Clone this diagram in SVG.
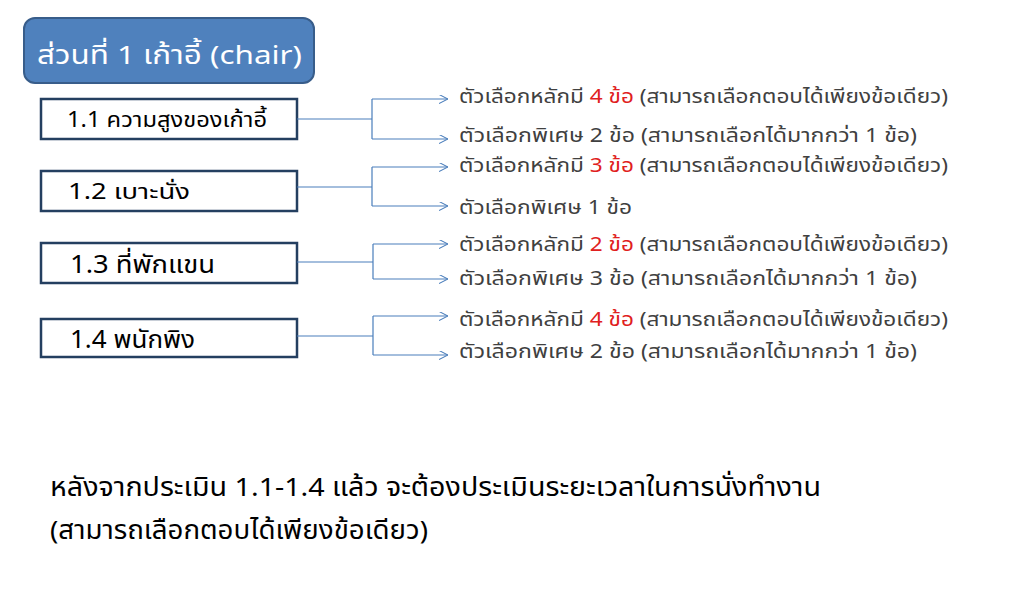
<svg xmlns="http://www.w3.org/2000/svg" width="1024" height="599" viewBox="0 0 1024 599">
<defs>
<style>
.t{font-family:"Noto Sans Thai","Tahoma","DejaVu Sans","Noto Sans",sans-serif;}
.box{fill:#fff;stroke:#243f60;stroke-width:2.5;}
.lbl{fill:#000;}
.opt{font-size:20px;fill:#404040;}
.red{fill:#e02020;}
.cn{fill:none;stroke:#4a7ebb;stroke-width:1.2;}
</style>
<marker id="ar" viewBox="0 0 10 10" refX="10" refY="5" markerWidth="9" markerHeight="9" markerUnits="userSpaceOnUse" orient="auto">
<path d="M0,0 L10,5 L0,10" fill="none" stroke="#4a7ebb" stroke-width="1.2"/>
</marker>
</defs>
<rect width="1024" height="599" fill="#fff"/>
<g id="title">
<rect x="24" y="18" width="290" height="65" rx="11" fill="#4f81bd" stroke="#385d8a" stroke-width="2"/>
<text class="t" x="37" y="64" font-size="26" fill="#fff" textLength="265" lengthAdjust="spacingAndGlyphs">ส่วนที่ 1 เก้าอี้ (chair)</text>
</g>
<g id="n11"><rect class="box" x="41" y="99" width="256" height="40"/><text class="t lbl" x="67" y="127" font-size="21" textLength="200" lengthAdjust="spacingAndGlyphs">1.1 ความสูงของเก้าอี้</text></g>
<g id="n12"><rect class="box" x="41" y="171" width="256" height="40"/><text class="t lbl" x="68" y="199" font-size="21" textLength="122" lengthAdjust="spacingAndGlyphs">1.2 เบาะนั่ง</text></g>
<g id="n13"><rect class="box" x="41" y="243" width="256" height="40"/><text class="t lbl" x="70" y="273" font-size="25" textLength="145" lengthAdjust="spacingAndGlyphs">1.3 ที่พักแขน</text></g>
<g id="n14"><rect class="box" x="41" y="319" width="256" height="38"/><text class="t lbl" x="70" y="348" font-size="25" textLength="125" lengthAdjust="spacingAndGlyphs">1.4 พนักพิง</text></g>
<g id="connectors">
<path class="cn" d="M297,119 H372 M372,99 V139" />
<path class="cn" d="M372,99 H448" marker-end="url(#ar)"/>
<path class="cn" d="M372,139 H448" marker-end="url(#ar)"/>
<path class="cn" d="M297,187 H372 M372,167 V206" />
<path class="cn" d="M372,167 H448" marker-end="url(#ar)"/>
<path class="cn" d="M372,206 H448" marker-end="url(#ar)"/>
<path class="cn" d="M297,262 H373 M373,244 V279" />
<path class="cn" d="M373,244 H448" marker-end="url(#ar)"/>
<path class="cn" d="M373,279 H448" marker-end="url(#ar)"/>
<path class="cn" d="M297,336 H373 M373,316 V355" />
<path class="cn" d="M373,316 H448" marker-end="url(#ar)"/>
<path class="cn" d="M373,355 H448" marker-end="url(#ar)"/>
</g>
<g id="options" class="t opt">
<text x="459" y="103" textLength="489" lengthAdjust="spacingAndGlyphs">ตัวเลือกหลักมี <tspan class="red">4 ข้อ</tspan> (สามารถเลือกตอบได้เพียงข้อเดียว)</text>
<text x="459" y="142" textLength="458" lengthAdjust="spacingAndGlyphs">ตัวเลือกพิเศษ 2 ข้อ (สามารถเลือกได้มากกว่า 1 ข้อ)</text>
<text x="459" y="172" textLength="489" lengthAdjust="spacingAndGlyphs">ตัวเลือกหลักมี <tspan class="red">3 ข้อ</tspan> (สามารถเลือกตอบได้เพียงข้อเดียว)</text>
<text x="459" y="214" textLength="173" lengthAdjust="spacingAndGlyphs">ตัวเลือกพิเศษ 1 ข้อ</text>
<text x="459" y="251" textLength="489" lengthAdjust="spacingAndGlyphs">ตัวเลือกหลักมี <tspan class="red">2 ข้อ</tspan> (สามารถเลือกตอบได้เพียงข้อเดียว)</text>
<text x="459" y="285" textLength="458" lengthAdjust="spacingAndGlyphs">ตัวเลือกพิเศษ 3 ข้อ (สามารถเลือกได้มากกว่า 1 ข้อ)</text>
<text x="459" y="326" textLength="489" lengthAdjust="spacingAndGlyphs">ตัวเลือกหลักมี <tspan class="red">4 ข้อ</tspan> (สามารถเลือกตอบได้เพียงข้อเดียว)</text>
<text x="459" y="358" textLength="458" lengthAdjust="spacingAndGlyphs">ตัวเลือกพิเศษ 2 ข้อ (สามารถเลือกได้มากกว่า 1 ข้อ)</text>
</g>
<g id="note" class="t" font-size="26" fill="#000">
<text x="50" y="496" textLength="771" lengthAdjust="spacingAndGlyphs">หลังจากประเมิน 1.1-1.4 แล้ว จะต้องประเมินระยะเวลาในการนั่งทำงาน</text>
<text x="50" y="539" textLength="378" lengthAdjust="spacingAndGlyphs">(สามารถเลือกตอบได้เพียงข้อเดียว)</text>
</g>
</svg>
